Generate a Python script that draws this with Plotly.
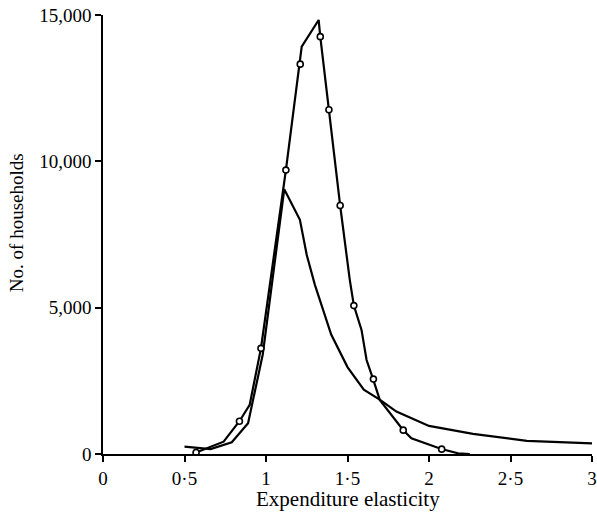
import plotly.graph_objects as go

# Curve with circle markers (line vertices)
a_x = [0.575, 0.74, 0.837, 0.90, 0.969, 1.122, 1.219, 1.323, 1.333, 1.386, 1.455, 1.514, 1.539,
       1.586, 1.617, 1.657, 1.698, 1.841, 1.892, 2.076, 2.178, 2.25]
a_y = [60, 420, 1120, 1680, 3610, 9700, 13920, 14830, 14260, 11760, 8490, 5950, 5070,
       4240, 3210, 2560, 1850, 820, 540, 170, 25, 0]

# Circle marker points
m_x = [0.571, 0.837, 0.969, 1.122, 1.210, 1.333, 1.386, 1.455, 1.539, 1.659, 1.842, 2.078]
m_y = [50, 1120, 3610, 9700, 13320, 14260, 11760, 8490, 5070, 2560, 815, 165]

# Curve without markers
b_x = [0.5, 0.6, 0.66, 0.79, 0.89, 0.98, 1.112, 1.208, 1.25, 1.30, 1.40, 1.50, 1.60, 1.70,
       1.80, 2.0, 2.27, 2.6, 3.0]
b_y = [250, 190, 170, 400, 1050, 3400, 9050, 8000, 6800, 5780, 4080, 2970, 2200, 1850,
       1450, 960, 690, 450, 360]

x_tickvals = [0, 0.5, 1, 1.5, 2, 2.5, 3]
x_ticktext = ["0", "0·5", "1", "1·5", "2", "2·5", "3"]
y_tickvals = [0, 5000, 10000, 15000]
y_ticktext = ["0", "5,000", "10,000", "15,000"]

FONT = "Liberation Serif, Times New Roman, serif"

fig = go.Figure()
fig.add_trace(go.Scatter(x=b_x, y=b_y, mode="lines",
                         line=dict(color="black", width=2.2), showlegend=False))
fig.add_trace(go.Scatter(x=a_x, y=a_y, mode="lines",
                         line=dict(color="black", width=2.2), showlegend=False))
fig.add_trace(go.Scatter(x=m_x, y=m_y, mode="markers",
                         marker=dict(symbol="circle", size=6, color="white",
                                     line=dict(color="black", width=1.6)),
                         showlegend=False))

axis_common = dict(showline=True, linecolor="black", linewidth=1.6, ticks="outside",
                   ticklen=6, tickwidth=1.5, tickcolor="black", showgrid=False,
                   zeroline=False, automargin=False,
                   tickfont=dict(family=FONT, size=19, color="black"))

fig.update_layout(
    width=597, height=516,
    margin=dict(l=103, r=5, t=15, b=62),
    paper_bgcolor="white", plot_bgcolor="white",
    font=dict(family=FONT, color="black"),
    xaxis=dict(range=[0, 3], tickvals=x_tickvals, ticktext=x_ticktext, **axis_common),
    yaxis=dict(range=[0, 15000], tickvals=y_tickvals, ticktext=y_ticktext, **axis_common),
    annotations=[
        dict(text="Expenditure elasticity", xref="paper", yref="paper", x=0.5, y=-0.1036,
             xanchor="center", yanchor="middle", showarrow=False,
             font=dict(family=FONT, size=21, color="black")),
        dict(text="No. of households", xref="paper", yref="paper", x=-0.178, y=0.528,
             xanchor="center", yanchor="middle", textangle=-90, showarrow=False,
             font=dict(family=FONT, size=19, color="black")),
    ],
)

fig.write_html("out.html", config={"displayModeBar": False},
               post_script="document.body.style.margin='0';document.body.style.overflow='hidden';")
